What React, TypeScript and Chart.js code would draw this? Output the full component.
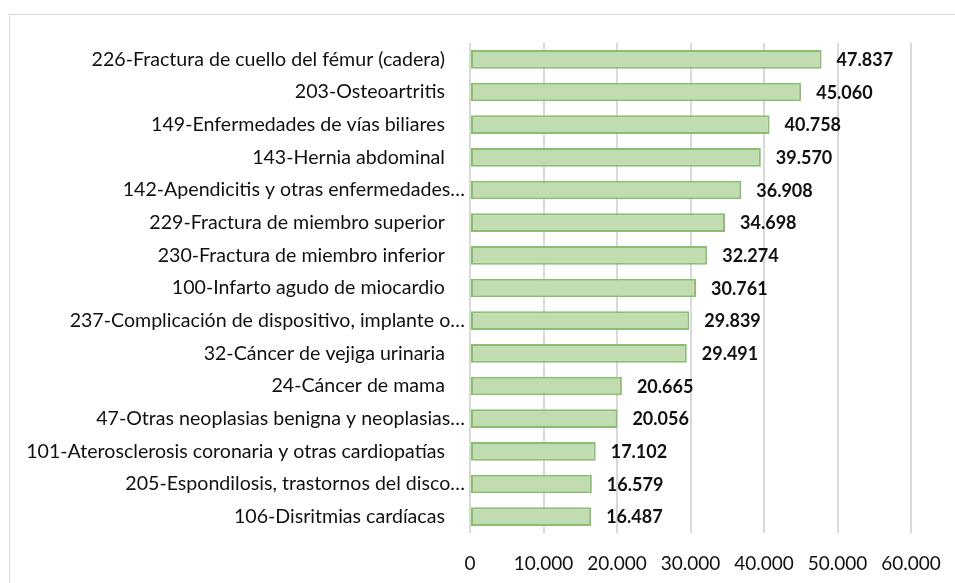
import React, { useEffect, useRef } from "react";
import { Chart, registerables } from "chart.js";

Chart.register(...registerables);

const categories: string[] = [
  "226-Fractura de cuello del fémur (cadera)",
  "203-Osteoartritis",
  "149-Enfermedades de vías biliares",
  "143-Hernia abdominal",
  "142-Apendicitis y otras enfermedades…",
  "229-Fractura de miembro superior",
  "230-Fractura de miembro inferior",
  "100-Infarto agudo de miocardio",
  "237-Complicación de dispositivo, implante o…",
  "32-Cáncer de vejiga urinaria",
  "24-Cáncer de mama",
  "47-Otras neoplasias benigna y neoplasias…",
  "101-Aterosclerosis coronaria y otras cardiopatías",
  "205-Espondilosis, trastornos del disco…",
  "106-Disritmias cardíacas",
];

const values: number[] = [
  47837, 45060, 40758, 39570, 36908, 34698, 32274, 30761, 29839, 29491,
  20665, 20056, 17102, 16579, 16487,
];

const xTicks: number[] = [0, 10000, 20000, 30000, 40000, 50000, 60000];

const FONT = "Lato, 'Noto Sans', sans-serif";

function fmt(n: number): string {
  const s = Math.round(n).toString();
  return s.replace(/\B(?=(\d{3})+(?!\d))/g, ".");
}

const valueLabels = {
  id: "valueLabels",
  afterDatasetsDraw(chart: any) {
    const ctx = chart.ctx;
    const meta = chart.getDatasetMeta(0);
    ctx.save();
    ctx.font = `bold 18px ${FONT}`;
    ctx.fillStyle = "#111";
    ctx.textAlign = "left";
    ctx.textBaseline = "middle";
    meta.data.forEach((bar: any, i: number) => {
      ctx.fillText(fmt(values[i]), bar.x + 15, bar.y + 1);
    });
    ctx.restore();
  },
};

export default function App() {
  const canvasRef = useRef<HTMLCanvasElement | null>(null);

  useEffect(() => {
    if (!canvasRef.current) return;
    const chart = new Chart(canvasRef.current, {
      type: "bar",
      data: {
        labels: categories,
        datasets: [
          {
            data: values,
            backgroundColor: "#c1dcb1",
            borderColor: "#8abd6f",
            borderWidth: 2,
            borderSkipped: false,
            barPercentage: 0.57,
            categoryPercentage: 1,
          },
        ],
      },
      options: {
        indexAxis: "y",
        animation: false,
        responsive: false,
        maintainAspectRatio: false,
        layout: { padding: { top: 43, right: 44, left: 0, bottom: 0 } },
        plugins: {
          legend: { display: false },
          tooltip: { enabled: false },
        },
        scales: {
          x: {
            min: 0,
            max: 60000,
            afterBuildTicks(scale: any) {
              scale.ticks = xTicks.map((v) => ({ value: v }));
            },
            afterFit(scale: any) {
              scale.height = 50;
              scale.paddingRight = 0;
              scale.paddingLeft = 0;
            },
            grid: { color: "#d9d9d9", lineWidth: 2, drawTicks: false },
            border: { display: false },
            ticks: {
              padding: 19,
              color: "#111",
              font: { family: FONT, size: 19 },
              callback: (v: any) => fmt(Number(v)),
            },
          },
          y: {
            afterFit(scale: any) {
              scale.width = 470;
            },
            grid: { display: false, drawTicks: false },
            border: { display: false },
            ticks: {
              padding: 5,
              color: "#111",
              font: { family: FONT, size: 19.6 },
              autoSkip: false,
              callback: (_v: any, i: number) =>
                categories[i].endsWith("…") ? categories[i] : categories[i] + "    ",
            },
          },
        },
      },
      plugins: [valueLabels],
    });
    return () => chart.destroy();
  }, []);

  return (
    <div
      style={{
        position: "fixed",
        left: 0,
        top: 0,
        width: 955,
        height: 583,
        overflow: "hidden",
        background: "#fff",
      }}
    >
      <div
        style={{
          position: "absolute",
          left: 9,
          top: 14,
          width: 1000,
          height: 1000,
          border: "1px solid #d9d9d9",
        }}
      />
      <canvas
        ref={canvasRef}
        width={955}
        height={583}
        style={{ position: "absolute", left: 0, top: 0 }}
      />
    </div>
  );
}
